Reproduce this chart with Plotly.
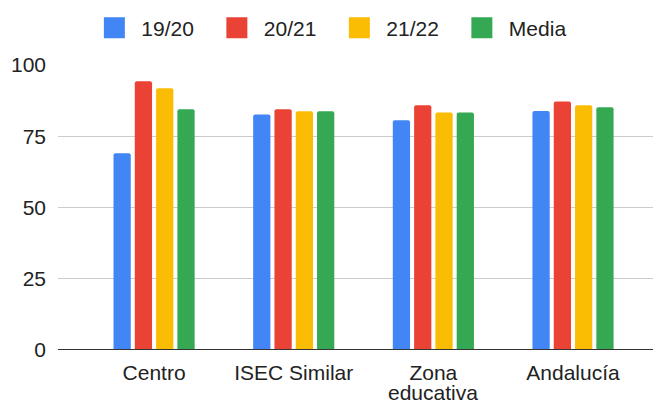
import plotly.graph_objects as go

categories = ["Centro", "ISEC Similar", "Zona educativa", "Andalucía"]
series_names = ["19/20", "20/21", "21/22", "Media"]
v_1920 = [69.0, 82.6, 80.6, 83.9]
v_2021 = [94.3, 84.5, 85.9, 87.2]
v_2122 = [91.8, 83.8, 83.3, 85.9]
v_media = [84.5, 83.8, 83.3, 85.2]
colors = ["#4285F4", "#EA4335", "#FBBC04", "#34A853"]
y_ticks = [0, 25, 50, 75, 100]

values = [v_1920, v_2021, v_2122, v_media]
xpos = list(range(len(categories)))
FONT = "Arial, Liberation Sans, sans-serif"
TXT = "#222222"
FS = 21

fig = go.Figure()
for name, vals, col in zip(series_names, values, colors):
    fig.add_trace(go.Bar(x=xpos, y=vals, name=name, marker_color=col,
                         marker_line_width=0, showlegend=False))
for name, col in zip(series_names, colors):
    fig.add_trace(go.Scatter(x=[None], y=[None], mode="markers", name=name,
                             marker=dict(symbol="square", size=16, color=col,
                                         line=dict(color=col, width=5))))

# figure is offset by the page's 8px body margin
W, H = 653, 393
ml, mr, mt, mb = 50, 0, 57, 51
first_lines = [c.split(" ", 1)[0] if c.startswith("Zona") else c for c in categories]
fig.update_layout(
    width=W, height=H,
    margin=dict(l=ml, r=mr, t=mt, b=mb, autoexpand=False),
    paper_bgcolor="white", plot_bgcolor="white",
    font=dict(family=FONT, size=FS, color=TXT),
    barmode="group", bargap=0.39, bargroupgap=0.19, barcornerradius=2,
    legend=dict(orientation="h", x=0.455, xanchor="center", y=1 - 20 / H, yanchor="middle",
                yref="container", font=dict(size=FS, color=TXT),
                itemwidth=44, entrywidth=63.5, tracegroupgap=0),
    showlegend=True,
)
fig.update_xaxes(tickmode="array", tickvals=xpos, ticktext=first_lines,
                 range=[-0.688, 3.63], showgrid=False, zeroline=False,
                 showline=False, ticks="", ticklabelstandoff=8,
                 tickfont=dict(size=FS, color=TXT))
fig.update_yaxes(range=[0, 100], tickvals=y_ticks, showgrid=True, gridcolor="#cccccc",
                 gridwidth=1, zeroline=False, showline=False, ticks="",
                 ticklabelstandoff=11, tickfont=dict(size=FS, color=TXT))
fig.add_shape(type="line", xref="paper", yref="y", x0=0, x1=1, y0=0, y1=0,
              line=dict(color="#333333", width=2))
for i, c in enumerate(categories):
    if c.startswith("Zona"):
        fig.add_annotation(x=i, xref="x", y=0, yref="paper", yanchor="middle",
                           yshift=-(384 - 342), text=c.split(" ", 1)[1],
                           showarrow=False, font=dict(size=FS, color=TXT))
fig.write_html("out.html")
